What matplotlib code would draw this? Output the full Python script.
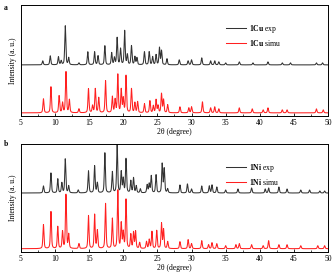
import numpy as np
import matplotlib
matplotlib.use("Agg")
import matplotlib.pyplot as plt
from matplotlib.lines import Line2D

plt.rcParams['font.family'] = ['Liberation Serif', 'DejaVu Serif']
plt.rcParams['mathtext.fontset'] = 'custom'
plt.rcParams['mathtext.rm'] = 'Liberation Serif'
plt.rcParams['mathtext.bf'] = 'Liberation Serif:bold'

# Peak lists (2theta position, relative height)
cu_exp_pos = [8.2, 9.3, 10.5, 10.9, 11.5, 12.0, 13.5, 14.8, 15.8, 16.3, 17.3, 18.3, 18.7, 19.1, 19.6,
              20.2, 20.6, 21.2, 21.7, 22.0, 23.1, 23.8, 24.3, 24.8, 25.3, 25.6, 26.4, 28.2, 29.5, 30.0,
              31.5, 32.8, 33.4, 34.0, 35.0, 37.0, 39.0, 41.2, 43.3, 44.5, 48.3, 49.2]
cu_exp_h = [4, 9, 8, 4, 39, 7, 2, 13, 13, 9, 19, 12, 7, 27, 16,
            34, 10, 19, 8, 7, 13, 13, 8, 10, 17, 14, 6, 5, 4, 5,
            7, 4, 4, 3, 2, 3, 2, 3, 2, 2, 2, 2]
cu_sim_pos = [8.3, 9.4, 10.6, 11.1, 11.6, 12.1, 13.5, 14.9, 15.5, 15.9, 16.4, 17.4, 18.4, 18.8, 19.2,
              19.7, 20.0, 20.4, 21.2, 21.7, 22.1, 23.1, 23.9, 24.4, 24.8, 25.1, 25.6, 25.9, 26.5, 28.3,
              29.6, 30.0, 31.6, 32.8, 33.4, 34.0, 37.0, 38.9, 40.5, 41.2, 43.3, 44.0, 48.3, 49.3]
cu_sim_h = [14, 26, 17, 10, 41, 13, 4, 24, 7, 24, 15, 32, 16, 13, 38,
            23, 14, 37, 24, 10, 11, 9, 12, 7, 13, 7, 19, 13, 8, 6,
            5, 6, 11, 5, 6, 4, 5, 4, 3, 5, 3, 3, 4, 3]
ni_exp_pos = [8.3, 9.4, 10.4, 11.0, 11.5, 12.0, 13.4, 14.9, 15.8, 16.2, 17.3, 18.4, 19.1, 19.7, 20.0,
              20.4, 21.1, 21.5, 21.9, 22.5, 23.5, 23.8, 24.1, 24.8, 25.7, 26.0, 26.5, 28.3, 29.4, 30.0,
              31.5, 32.6, 33.0, 33.7, 35.0, 36.8, 38.8, 40.8, 41.3, 42.8, 44.0, 46.0, 47.3, 48.8, 49.5]
ni_exp_h = [7, 20, 14, 10, 34, 7, 3, 22, 27, 10, 40, 21, 49, 21, 14,
            34, 12, 15, 7, 4, 8, 9, 17, 18, 29, 24, 4, 8, 9, 4,
            7, 7, 8, 6, 3, 4, 5, 4, 5, 6, 4, 3, 3, 2, 2]
ni_sim_pos = [8.3, 9.4, 10.4, 11.1, 11.6, 12.0, 13.5, 14.9, 15.8, 16.2, 17.4, 18.4, 19.2, 19.7, 20.0,
              20.4, 21.1, 21.5, 21.8, 22.4, 23.4, 23.8, 24.2, 24.9, 25.6, 25.9, 26.5, 28.3, 29.5, 30.0,
              31.5, 32.5, 33.0, 33.7, 35.0, 36.5, 37.0, 38.8, 40.5, 41.3, 42.8, 44.0, 46.0, 48.5, 49.5]
ni_sim_h = [24, 37, 22, 17, 54, 14, 5, 33, 34, 18, 45, 30, 58, 25, 16,
            49, 14, 16, 17, 6, 7, 9, 17, 18, 25, 19, 7, 7, 9, 5,
            8, 4, 6, 5, 3, 4, 5, 4, 3, 8, 4, 4, 3, 3, 3]

x = np.linspace(5, 50, 4000)


def profile(pos, h, w=0.09):
    y = np.zeros_like(x)
    for p, a in zip(pos, h):
        y += a * (0.5 / (1 + ((x - p) / w) ** 2) + 0.5 * np.exp(-np.log(2) * ((x - p) / w) ** 2))
    return y


fig = plt.figure(figsize=(3.32, 2.72), dpi=100)
fs = 5.5
black = '#333333'
red = '#ff2020'

panels = [
    dict(rect=[0.063, 0.574, 0.925, 0.408], ylim=111, base_e=51, base_s=3,
         e=(cu_exp_pos, cu_exp_h), s=(cu_sim_pos, cu_sim_h), name='1Cu', tag='a', tagy=0.985),
    dict(rect=[0.063, 0.0735, 0.925, 0.397], ylim=108, base_e=59, base_s=3.3,
         e=(ni_exp_pos, ni_exp_h), s=(ni_sim_pos, ni_sim_h), name='1Ni', tag='b', tagy=0.485),
]

for P in panels:
    ax = fig.add_axes(P['rect'])
    ax.plot(x, P['base_e'] + profile(*P['e']), color=black, lw=0.75)
    ax.plot(x, P['base_s'] + profile(*P['s']), color=red, lw=0.75)
    ax.set_xlim(5, 50)
    ax.set_ylim(0, P['ylim'])
    ax.set_yticks([])
    ax.set_xticks(np.arange(5, 51, 5))
    ax.set_xticks(np.arange(7.5, 50, 5), minor=True)
    ax.tick_params(axis='x', which='major', direction='in', length=2.5, width=0.6,
                   labelsize=fs, pad=2)
    ax.tick_params(axis='x', which='minor', direction='in', length=1.5, width=0.5)
    for sp in ax.spines.values():
        sp.set_linewidth(0.7)
    ax.set_xlabel('2θ (degree)', fontsize=fs, labelpad=1)
    ax.set_ylabel('Intensity (a. u.)', fontsize=fs, labelpad=3)
    handles = [Line2D([], [], color=black, lw=0.75), Line2D([], [], color=red, lw=0.75)]
    labels = [r'$\mathbf{%s}$ exp' % P['name'], r'$\mathbf{%s}$ simu' % P['name']]
    ax.legend(handles, labels, loc='upper left', bbox_to_anchor=(0.655, 0.87), frameon=False,
              fontsize=fs, handlelength=2.6, handletextpad=0.4, labelspacing=0.35, borderpad=0)
    fig.text(0.012, P['tagy'], P['tag'], fontsize=fs, fontweight='bold', va='top', ha='left')

fig.savefig('out.png', dpi=100)
